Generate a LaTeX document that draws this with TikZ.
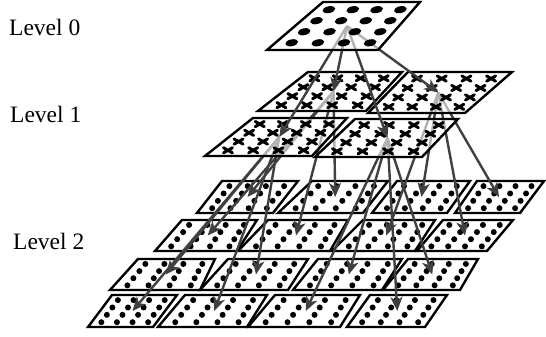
\documentclass[tikz,border=0pt]{standalone}
\usepackage{fontspec}
\setmainfont{Liberation Serif}
\usetikzlibrary{arrows.meta,calc}

\tikzset{
  tileedge/.style={draw=black,line width=2.4pt,line join=miter},
  seethru/.style={fill=white,fill opacity=.6},
  opaque/.style={fill=white},
  link/.style={draw=black!75,line width=2.4pt,-{Stealth[length=14pt,width=12pt,inset=4pt]}},
  levellabel/.style={anchor=base west,inner sep=0pt,font=\fontsize{23.5}{28}\selectfont},
  pics/blob/.style={code={\fill[rotate=12] (0,0) ellipse [x radius=6.5, y radius=3.4];}},
  pics/cross/.style={code={\draw[line width=3pt,line cap=round] (-4.5,-2.6) -- (4.5,2.6) (-4.5,2.6) -- (4.5,-2.6);}},
  pics/dot/.style={code={\fill (0,0) circle [radius=3];}},
}

% name, y bottom, y top, x bottom-left, x bottom-right, x top-left, x top-right
\newcommand{\tilecorners}[7]{%
  \coordinate (#1-a) at (#4,#2);
  \coordinate (#1-b) at (#5,#2);
  \coordinate (#1-c) at (#7,#3);
  \coordinate (#1-d) at (#6,#3);
  \coordinate (#1) at ($($(#1-a)!.5!(#1-b)$)!.5!($(#1-d)!.5!(#1-c)$)$);
}
% name, mark, fill
\newcommand{\tiledraw}[3]{%
  \draw[tileedge,#3] (#1-a) -- (#1-b) -- (#1-c) -- (#1-d) -- cycle;
  \foreach \u in {.15,.39,.63,.87}
    \foreach \v in {.15,.38,.61,.84}
      \pic at ($($(#1-a)!\u!(#1-b)$)!\v!($(#1-d)!\u!(#1-c)$)$) {#2};
}

\begin{document}
\begin{tikzpicture}[x=1pt,y=-1pt]
  \useasboundingbox (0,0) rectangle (546,337);

  \node[levellabel] (lab0) at (9,36) {Level 0};
  \node[levellabel] (lab1) at (10,122) {Level 1};
  \node[levellabel] (lab2) at (13,249) {Level 2};

  \tilecorners{L0}{50}{2}{267}{378}{323}{420}
  \foreach \n/\yb/\yt/\p/\q/\r/\s in {
      L1-bl/111/72/258/366/308/402, L1-br/113/72/368/465/408/512,
      L1-fl/156/118/205/312/253/347, L1-fr/157/119/315/422/355/458}
    {\tilecorners{\n}{\yb}{\yt}{\p}{\q}{\r}{\s}}
  \foreach \n/\yb/\yt/\p/\q/\r/\s in {
      L2-00/213/181/197/273/222/298, L2-01/213/181/278/363/312/388,
      L2-02/213/181/372/447/397/470, L2-03/213/181/455/520/477/544,
      L2-10/251/220/155/237/182/257, L2-11/251/220/238/330/268/348,
      L2-12/251/220/332/415/363/435, L2-13/251/220/417/487/443/513,
      L2-20/290/259/110/200/138/215, L2-21/290/259/200/288/228/308,
      L2-22/290/259/293/382/318/402, L2-23/290/259/383/460/408/478,
      L2-30/327/295/88/153/112/177,  L2-31/327/295/158/247/185/267,
      L2-32/327/295/248/340/275/360, L2-33/327/295/347/425/370/447}
    {\tilecorners{\n}{\yb}{\yt}{\p}{\q}{\r}{\s}}

  \foreach \r in {0,...,3}
    \foreach \c in {0,...,3}
      {\tiledraw{L2-\r\c}{dot}{opaque}}

  \foreach \s/\t in {L1-bl/L2-00, L1-bl/L2-01, L1-bl/L2-10, L1-bl/L2-11,
                     L1-br/L2-02, L1-br/L2-03, L1-br/L2-12, L1-br/L2-13,
                     L1-fl/L2-20, L1-fl/L2-21, L1-fl/L2-30, L1-fl/L2-31,
                     L1-fr/L2-22, L1-fr/L2-23, L1-fr/L2-32, L1-fr/L2-33}
    \draw[link] (\s) -- (\t);

  \foreach \n in {L1-bl,L1-br,L1-fl,L1-fr}
    {\tiledraw{\n}{cross}{seethru}}

  \foreach \t in {L1-bl,L1-br,L1-fl,L1-fr}
    \draw[link] (L0) -- (\t);

  \tiledraw{L0}{blob}{seethru}
\end{tikzpicture}
\end{document}
